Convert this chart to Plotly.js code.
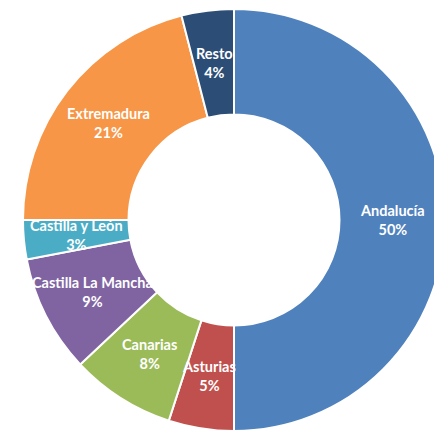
<!DOCTYPE html>
<html>
<head>
<meta charset="utf-8">
<script src="https://cdn.plot.ly/plotly-3.0.1.min.js"></script>
<style>
html,body{margin:0;padding:0;overflow:hidden;background:#fff;width:434px;height:431px;}
#chart{width:446px;height:431px;}
</style>
</head>
<body>
<div id="chart"></div>
<script>
const regions = ["Andalucía", "Asturias", "Canarias", "Castilla La Mancha", "Castilla y León", "Extremadura", "Resto"];
const shares = [50, 5, 8, 9, 3, 21, 4];
const colors = ["#4F81BD", "#C0504D", "#9BBB59", "#8064A2", "#4BACC6", "#F79646", "#2C4D75"];

const W = 446, H = 431;
const cx = 234, cy = 220, R = 211, hole = 0.5;
const dom = {x: [(cx - R) / W, (cx + R) / W], y: [1 - (cy + R) / H, 1 - (cy - R) / H]};

const total = shares.reduce((a, b) => a + b, 0);
const rMid = R * (1 + hole) / 2;
const annotations = [];
let cum = 0;
shares.forEach((v, i) => {
  const mid = (cum + v / 2) / total * 2 * Math.PI;
  cum += v;
  const px = cx + rMid * Math.sin(mid);
  const py = cy - rMid * Math.cos(mid);
  annotations.push({
    x: px / W, y: 1 - py / H, xref: "paper", yref: "paper",
    text: "<b>" + regions[i] + "<br>" + Math.round(v / total * 100) + "%</b>",
    showarrow: false, xanchor: "center", yanchor: "middle",
    font: {family: "Lato, 'Open Sans', sans-serif", size: 14.5, color: "#FFFFFF"}
  });
});

const data = [{
  type: "pie",
  labels: regions,
  values: shares,
  hole: hole,
  sort: false,
  direction: "clockwise",
  rotation: 0,
  textinfo: "none",
  marker: {colors: colors, line: {color: "#FFFFFF", width: 2}},
  domain: dom,
  hoverinfo: "label+percent"
}];

const layout = {
  width: W, height: H,
  margin: {l: 0, r: 0, t: 0, b: 0},
  showlegend: false,
  paper_bgcolor: "#FFFFFF",
  annotations: annotations
};

Plotly.newPlot("chart", data, layout, {displayModeBar: false, staticPlot: true});
</script>
</body>
</html>
